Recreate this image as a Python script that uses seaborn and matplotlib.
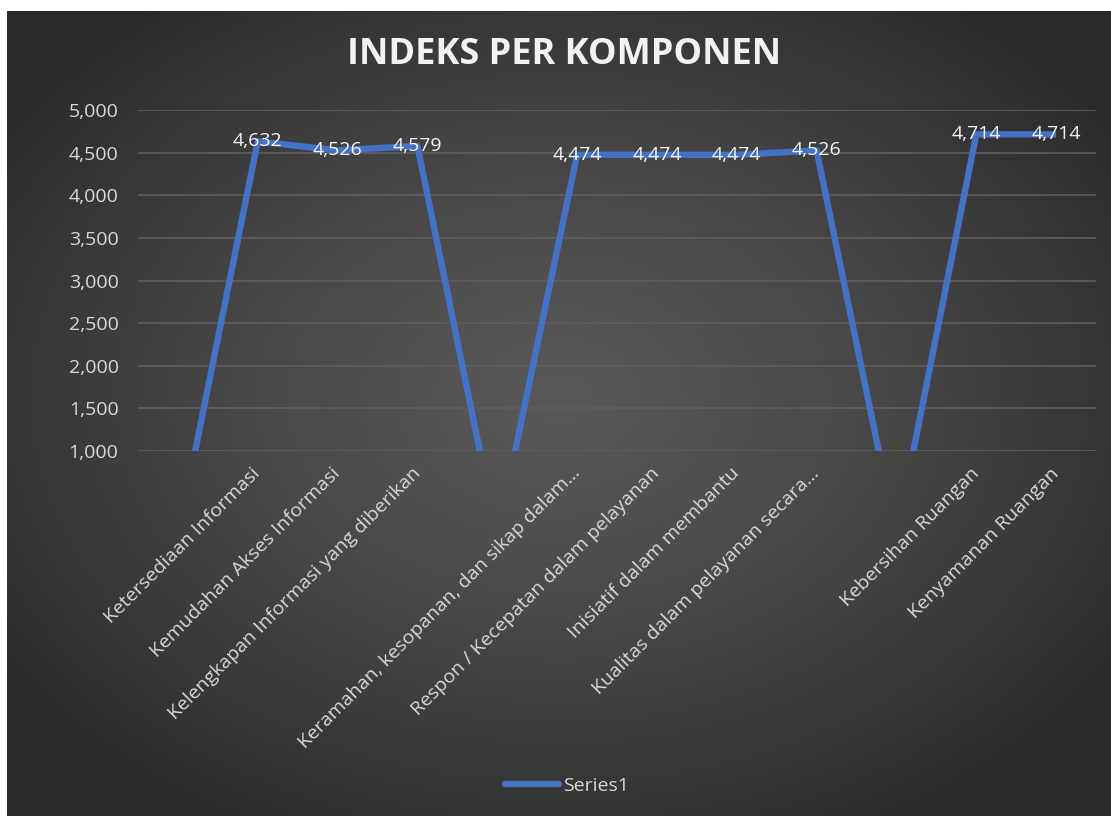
import numpy as np
import pandas as pd
import seaborn as sns
import matplotlib.pyplot as plt
from matplotlib.ticker import FuncFormatter

# data (blank categories are plotted as 0, below the axis minimum)
labels = ["", "Ketersediaan Informasi", "Kemudahan Akses Informasi",
          "Kelengkapan Informasi yang diberikan", "",
          "Keramahan, kesopanan, dan sikap dalam…",
          "Respon / Kecepatan dalam pelayanan", "Inisiatif dalam membantu",
          "Kualitas dalam pelayanan secara…", "",
          "Kebersihan Ruangan", "Kenyamanan Ruangan"]
values = [0, 4.632, 4.526, 4.579, 0, 4.474, 4.474, 4.474, 4.526, 0, 4.714, 4.714]
y_ticks = [1.0, 1.5, 2.0, 2.5, 3.0, 3.5, 4.0, 4.5, 5.0]

df = pd.DataFrame({"pos": range(len(labels)), "value": values, "series": "Series1"})

sns.set_theme(style="dark")
plt.rcParams["font.family"] = ["Open Sans", "DejaVu Sans"]

fig = plt.figure(figsize=(11.11, 8.16), dpi=100)
fig.patch.set_facecolor("white")

# radial gradient background
bg = fig.add_axes([7 / 1111, 0, 1 - 7 / 1111, 1 - 11 / 816])
yy, xx = np.mgrid[0:1:400j, 0:1:550j]
r = np.sqrt(((xx - 0.5) / 0.62) ** 2 + ((yy - 0.52) / 0.62) ** 2)
r = np.clip(r, 0, 1)
shade = 0.345 - (0.345 - 0.165) * r ** 1.3
bg.imshow(np.dstack([shade, shade, shade]), aspect="auto", extent=[0, 1, 0, 1], origin="lower")
bg.set_axis_off()

ax = fig.add_axes([138 / 1111, 1 - 451 / 816, (1096 - 138) / 1111, (451 - 110) / 816])
ax.set_facecolor("none")

sns.lineplot(data=df, x="pos", y="value", hue="series", palette=["#4472C4"], sort=False,
             linewidth=4.6, ax=ax, legend=True)
for ln in ax.lines:
    ln.set_solid_joinstyle("round")
    ln.set_solid_capstyle("butt")

ax.set_xlim(-0.5, len(labels) - 0.5)
ax.set_ylim(1.0, 5.0)
ax.set_yticks(y_ticks)
ax.yaxis.set_major_formatter(FuncFormatter(lambda v, p: f"{v:.3f}".replace(".", ",")))
ax.set_xticks(range(len(labels)))
ax.set_xticklabels(labels, rotation=45, ha="right", va="center", rotation_mode="anchor")
ax.tick_params(axis="x", length=0, pad=14, labelsize=14, colors="#d9d9d9")
ax.tick_params(axis="y", length=0, pad=14, labelsize=14, colors="#d9d9d9")
ax.set_xlabel("")
ax.set_ylabel("")
ax.grid(axis="y", color="#5e5e5e", linewidth=1.2)
ax.grid(axis="x", visible=False)
for s in ax.spines.values():
    s.set_visible(False)

for p, v in zip(df["pos"], df["value"]):
    if v > 0:
        ax.text(p, v, f"{v:.3f}".replace(".", ","), ha="center", va="center",
                fontsize=14, color="#f5f5f5")

leg = ax.legend(loc="center", bbox_to_anchor=(567 / 1111, 1 - 786 / 816),
                bbox_transform=fig.transFigure, frameon=False, fontsize=14,
                handlelength=2.8, handletextpad=0.2)
for t in leg.get_texts():
    t.set_color("#d9d9d9")
for h in leg.get_lines():
    h.set_linewidth(4.6)
    h.set_solid_capstyle("round")

fig.text(564 / 1111, 1 - 55 / 816, "INDEKS PER KOMPONEN", ha="center", va="center",
         fontsize=26, fontweight="bold", color="#f2f2f2")

fig.savefig("out.png", dpi=100)
